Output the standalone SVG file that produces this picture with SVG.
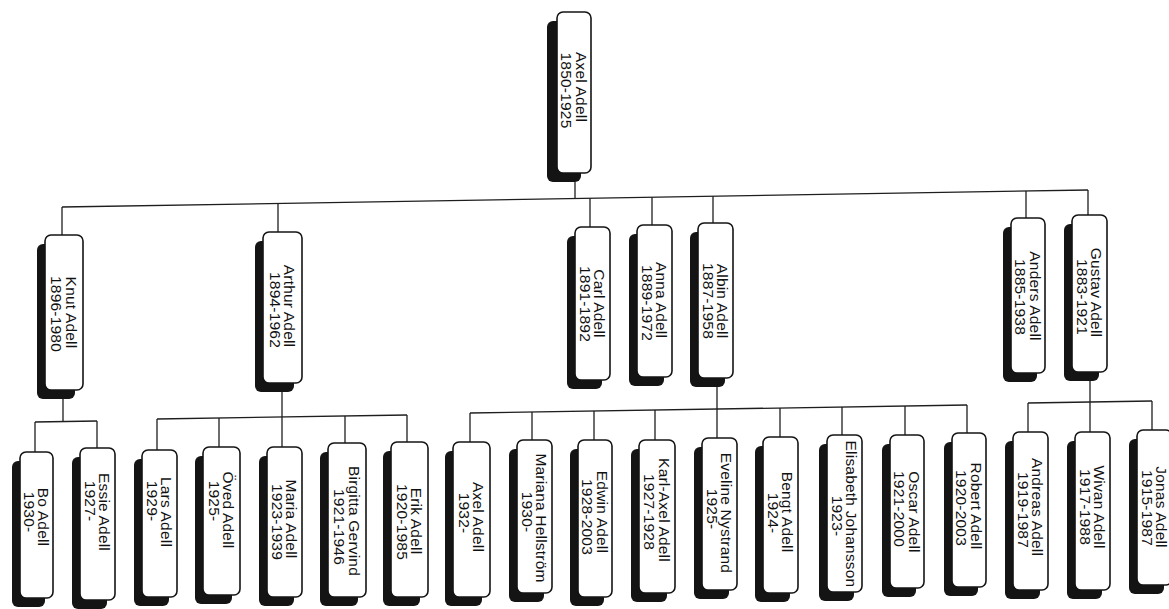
<svg xmlns="http://www.w3.org/2000/svg" width="1169" height="609" viewBox="0 0 1169 609">
<style>
.sh{fill:#141414}
.bx{fill:#fff;stroke:#141414;stroke-width:1.6}
.lb{font-family:"Liberation Sans",Arial,sans-serif;font-size:15.5px;fill:#111;text-anchor:middle;letter-spacing:0.2px}
.cn line{stroke:#1e1e1e;stroke-width:1.3;fill:none}
</style>
<rect width="1169" height="609" fill="#fff"/>
<g class="cn" id="connectors">
<line x1="575" y1="182" x2="575" y2="198"/>
<line x1="62" y1="207" x2="1088" y2="190"/>
<line x1="62" y1="207" x2="62" y2="235"/>
<line x1="278" y1="203.4" x2="278" y2="232"/>
<line x1="590" y1="198.3" x2="590" y2="227"/>
<line x1="652" y1="197.2" x2="652" y2="225"/>
<line x1="713" y1="196.2" x2="713" y2="223"/>
<line x1="1026" y1="191" x2="1026" y2="218"/>
<line x1="1088" y1="190" x2="1088" y2="215"/>
<line x1="63" y1="399" x2="63" y2="421.5"/>
<line x1="35" y1="422" x2="97" y2="421"/>
<line x1="35" y1="422" x2="35" y2="452"/>
<line x1="97" y1="421" x2="97" y2="448"/>
<line x1="282" y1="392" x2="282" y2="417"/>
<line x1="157" y1="419" x2="407" y2="415"/>
<line x1="157" y1="419" x2="157" y2="450"/>
<line x1="219" y1="418" x2="219" y2="447"/>
<line x1="282" y1="417" x2="282" y2="447"/>
<line x1="345" y1="416" x2="345" y2="443"/>
<line x1="407" y1="415" x2="407" y2="442"/>
<line x1="717" y1="387" x2="717" y2="409"/>
<line x1="470" y1="413" x2="967" y2="405"/>
<line x1="470" y1="413" x2="470" y2="442"/>
<line x1="532" y1="412" x2="532" y2="440"/>
<line x1="594" y1="411" x2="594" y2="440"/>
<line x1="655" y1="410" x2="655" y2="440"/>
<line x1="717" y1="409" x2="717" y2="438"/>
<line x1="780" y1="408" x2="780" y2="437"/>
<line x1="842" y1="407" x2="842" y2="435"/>
<line x1="905" y1="406" x2="905" y2="435"/>
<line x1="967" y1="405" x2="967" y2="433"/>
<line x1="1090" y1="381" x2="1090" y2="402"/>
<line x1="1028" y1="403" x2="1152" y2="401"/>
<line x1="1028" y1="403" x2="1028" y2="432"/>
<line x1="1090" y1="402" x2="1090" y2="432"/>
<line x1="1152" y1="401" x2="1152" y2="430"/>
</g>

<g id="axel-1850">
<rect class="sh" x="547" y="21" width="34" height="161" rx="6"/>
<rect class="bx" x="557" y="12" width="34" height="161" rx="6"/>
<text class="lb" transform="translate(581.2,87) rotate(90)" y="5.6">Axel Adell</text>
<text class="lb" transform="translate(566.8,90.5) rotate(90)" y="5.6">1850-1925</text>
</g>

<g id="knut">
<rect class="sh" x="37" y="244" width="38" height="155" rx="6"/>
<rect class="bx" x="45" y="235" width="38" height="155" rx="6"/>
<text class="lb" transform="translate(71.2,312.5) rotate(90)" y="5.6">Knut Adell</text>
<text class="lb" transform="translate(56.8,314) rotate(90)" y="5.6">1896-1980</text>
</g>
<g id="arthur">
<rect class="sh" x="255" y="241" width="39" height="151" rx="6"/>
<rect class="bx" x="263" y="232" width="39" height="151" rx="6"/>
<text class="lb" transform="translate(289.7,306) rotate(90)" y="5.6">Arthur Adell</text>
<text class="lb" transform="translate(275.3,310) rotate(90)" y="5.6">1894-1962</text>
</g>
<g id="carl">
<rect class="sh" x="567" y="236" width="35" height="153" rx="6"/>
<rect class="bx" x="575" y="227" width="35" height="153" rx="6"/>
<text class="lb" transform="translate(599.7,303.5) rotate(90)" y="5.6">Carl Adell</text>
<text class="lb" transform="translate(585.3,304) rotate(90)" y="5.6">1891-1892</text>
</g>
<g id="anna">
<rect class="sh" x="629" y="234" width="35" height="152" rx="6"/>
<rect class="bx" x="637" y="225" width="35" height="152" rx="6"/>
<text class="lb" transform="translate(661.7,300) rotate(90)" y="5.6">Anna Adell</text>
<text class="lb" transform="translate(647.3,303) rotate(90)" y="5.6">1889-1972</text>
</g>
<g id="albin">
<rect class="sh" x="690" y="232" width="35" height="155" rx="6"/>
<rect class="bx" x="698" y="223" width="35" height="155" rx="6"/>
<text class="lb" transform="translate(722.7,301) rotate(90)" y="5.6">Albin Adell</text>
<text class="lb" transform="translate(708.3,301) rotate(90)" y="5.6">1887-1958</text>
</g>
<g id="anders">
<rect class="sh" x="1003" y="227" width="34" height="155" rx="6"/>
<rect class="bx" x="1011" y="218" width="34" height="155" rx="6"/>
<text class="lb" transform="translate(1035.2,296) rotate(90)" y="5.6">Anders Adell</text>
<text class="lb" transform="translate(1020.8,297) rotate(90)" y="5.6">1885-1938</text>
</g>
<g id="gustav">
<rect class="sh" x="1064" y="224" width="35" height="157" rx="6"/>
<rect class="bx" x="1072" y="215" width="35" height="157" rx="6"/>
<text class="lb" transform="translate(1096.7,292.5) rotate(90)" y="5.6">Gustav Adell</text>
<text class="lb" transform="translate(1082.3,297) rotate(90)" y="5.6">1883-1921</text>
</g>

<g id="bo">
<rect class="sh" x="12" y="461" width="33" height="146" rx="6"/>
<rect class="bx" x="20" y="452" width="33" height="146" rx="6"/>
<text class="lb" transform="translate(43.7,517) rotate(90)" y="5.6">Bo Adell</text>
<text class="lb" transform="translate(29.3,512) rotate(90)" y="5.6">1930-</text>
</g>
<g id="essie">
<rect class="sh" x="72" y="457" width="35" height="152" rx="6"/>
<rect class="bx" x="80" y="448" width="35" height="152" rx="6"/>
<text class="lb" transform="translate(104.7,512) rotate(90)" y="5.6">Essie Adell</text>
<text class="lb" transform="translate(90.3,501) rotate(90)" y="5.6">1927-</text>
</g>
<g id="lars">
<rect class="sh" x="134" y="459" width="35" height="147" rx="6"/>
<rect class="bx" x="142" y="450" width="35" height="147" rx="6"/>
<text class="lb" transform="translate(166.7,512) rotate(90)" y="5.6">Lars Adell</text>
<text class="lb" transform="translate(152.3,501) rotate(90)" y="5.6">1929-</text>
</g>
<g id="oved">
<rect class="sh" x="195" y="456" width="37" height="148" rx="6"/>
<rect class="bx" x="203" y="447" width="37" height="148" rx="6"/>
<text class="lb" transform="translate(228.7,510) rotate(90)" y="5.6">Öved Adell</text>
<text class="lb" transform="translate(214.3,501) rotate(90)" y="5.6">1925-</text>
</g>
<g id="maria">
<rect class="sh" x="259" y="456" width="35" height="150" rx="6"/>
<rect class="bx" x="267" y="447" width="35" height="150" rx="6"/>
<text class="lb" transform="translate(291.7,519) rotate(90)" y="5.6">Maria Adell</text>
<text class="lb" transform="translate(277.3,522) rotate(90)" y="5.6">1923-1939</text>
</g>
<g id="birgitta">
<rect class="sh" x="320" y="452" width="38" height="154" rx="6"/>
<rect class="bx" x="328" y="443" width="38" height="154" rx="6"/>
<text class="lb" transform="translate(354.2,521) rotate(90)" y="5.6">Birgitta Gervind</text>
<text class="lb" transform="translate(339.8,527) rotate(90)" y="5.6">1921-1946</text>
</g>
<g id="erik">
<rect class="sh" x="383" y="451" width="37" height="155" rx="6"/>
<rect class="bx" x="391" y="442" width="37" height="155" rx="6"/>
<text class="lb" transform="translate(416.7,521) rotate(90)" y="5.6">Erik Adell</text>
<text class="lb" transform="translate(402.3,522) rotate(90)" y="5.6">1920-1985</text>
</g>
<g id="axel-1932">
<rect class="sh" x="445" y="451" width="37" height="155" rx="6"/>
<rect class="bx" x="453" y="442" width="37" height="155" rx="6"/>
<text class="lb" transform="translate(478.7,517) rotate(90)" y="5.6">Axel Adell</text>
<text class="lb" transform="translate(464.3,513) rotate(90)" y="5.6">1932-</text>
</g>
<g id="mariana">
<rect class="sh" x="509" y="449" width="35" height="153" rx="6"/>
<rect class="bx" x="517" y="440" width="35" height="153" rx="6"/>
<text class="lb" transform="translate(541.7,518) rotate(90)" y="5.6">Mariana Hellström</text>
<text class="lb" transform="translate(527.3,512) rotate(90)" y="5.6">1930-</text>
</g>
<g id="edwin">
<rect class="sh" x="570" y="449" width="34" height="157" rx="6"/>
<rect class="bx" x="578" y="440" width="34" height="157" rx="6"/>
<text class="lb" transform="translate(602.2,512) rotate(90)" y="5.6">Edwin Adell</text>
<text class="lb" transform="translate(587.8,517) rotate(90)" y="5.6">1928-2003</text>
</g>
<g id="karl-axel">
<rect class="sh" x="631" y="449" width="36" height="153" rx="6"/>
<rect class="bx" x="639" y="440" width="36" height="153" rx="6"/>
<text class="lb" transform="translate(664.2,510) rotate(90)" y="5.6">Karl-Axel Adell</text>
<text class="lb" transform="translate(649.8,512) rotate(90)" y="5.6">1927-1928</text>
</g>
<g id="eveline">
<rect class="sh" x="694" y="447" width="35" height="152" rx="6"/>
<rect class="bx" x="702" y="438" width="35" height="152" rx="6"/>
<text class="lb" transform="translate(726.7,513) rotate(90)" y="5.6">Eveline Nystrand</text>
<text class="lb" transform="translate(712.3,509) rotate(90)" y="5.6">1925-</text>
</g>
<g id="bengt">
<rect class="sh" x="755" y="446" width="35" height="156" rx="6"/>
<rect class="bx" x="763" y="437" width="35" height="156" rx="6"/>
<text class="lb" transform="translate(787.7,512) rotate(90)" y="5.6">Bengt Adell</text>
<text class="lb" transform="translate(773.3,513) rotate(90)" y="5.6">1924-</text>
</g>
<g id="elisabeth">
<rect class="sh" x="819" y="444" width="35" height="157" rx="6"/>
<rect class="bx" x="827" y="435" width="35" height="157" rx="6"/>
<text class="lb" transform="translate(851.7,514) rotate(90)" y="5.6">Elisabeth Johansson</text>
<text class="lb" transform="translate(837.3,516) rotate(90)" y="5.6">1923-</text>
</g>
<g id="oscar">
<rect class="sh" x="882" y="444" width="34" height="153" rx="6"/>
<rect class="bx" x="890" y="435" width="34" height="153" rx="6"/>
<text class="lb" transform="translate(914.2,512) rotate(90)" y="5.6">Oscar Adell</text>
<text class="lb" transform="translate(899.8,509) rotate(90)" y="5.6">1921-2000</text>
</g>
<g id="robert">
<rect class="sh" x="944" y="442" width="34" height="154" rx="6"/>
<rect class="bx" x="952" y="433" width="34" height="154" rx="6"/>
<text class="lb" transform="translate(976.2,506) rotate(90)" y="5.6">Robert Adell</text>
<text class="lb" transform="translate(961.8,508) rotate(90)" y="5.6">1920-2003</text>
</g>
<g id="andreas">
<rect class="sh" x="1005" y="441" width="35" height="158" rx="6"/>
<rect class="bx" x="1013" y="432" width="35" height="158" rx="6"/>
<text class="lb" transform="translate(1037.7,507) rotate(90)" y="5.6">Andreas Adell</text>
<text class="lb" transform="translate(1023.3,510) rotate(90)" y="5.6">1919-1987</text>
</g>
<g id="wivan">
<rect class="sh" x="1067" y="441" width="35" height="158" rx="6"/>
<rect class="bx" x="1075" y="432" width="35" height="158" rx="6"/>
<text class="lb" transform="translate(1099.7,507) rotate(90)" y="5.6">Wivan Adell</text>
<text class="lb" transform="translate(1085.3,507) rotate(90)" y="5.6">1917-1988</text>
</g>
<g id="jonas">
<rect class="sh" x="1129" y="439" width="35" height="155" rx="6"/>
<rect class="bx" x="1137" y="430" width="35" height="155" rx="6"/>
<text class="lb" transform="translate(1161.7,507) rotate(90)" y="5.6">Jonas Adell</text>
<text class="lb" transform="translate(1147.3,508) rotate(90)" y="5.6">1915-1987</text>
</g>
</svg>
